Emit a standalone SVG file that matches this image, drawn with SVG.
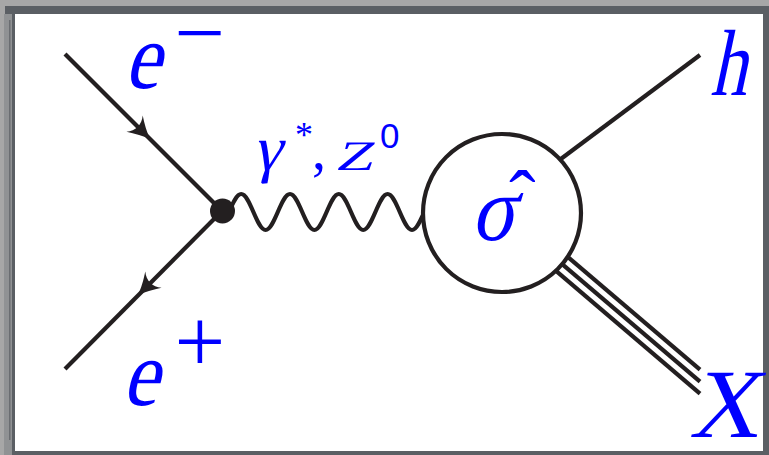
<svg xmlns="http://www.w3.org/2000/svg" width="769" height="455" viewBox="0 0 769 455">
<style>
.ln{stroke:#231f20;stroke-width:4.2;fill:none;stroke-linecap:butt}
.lbl{fill:#0000ff}
.arr{fill:#231f20}
</style>
<defs>
<path id="arrowhead" d="M4,0 C-4,-2 -12,-7 -19,-11.5 C-13,-4.5 -13,4.5 -19,11.5 C-12,7 -4,2 4,0 Z"/>
</defs>
<g id="frame">
<rect x="0" y="0" width="769" height="455" fill="#a7a7a7"/>
<rect x="5" y="6" width="764" height="449" fill="#5b5f64"/>
<rect x="4" y="14" width="8" height="441" fill="#909294"/>
<rect x="9" y="20" width="1.5" height="420" fill="#6a6d71"/>
<rect x="15" y="14" width="748" height="437" fill="#ffffff"/>
</g>
<g id="connectors">
<path id="e-minus-line" class="ln" d="M65,54 L222,211"/>
<path id="e-plus-line" class="ln" d="M222,211 L65,369"/>
<use href="#arrowhead" class="arr" transform="translate(148,137) rotate(45)"/>
<use href="#arrowhead" class="arr" transform="translate(140,293) rotate(135)"/>
<path id="photon" class="ln" d="M229,212 c4.08,-9.45 7.79,-18 12.2,-18 c4.41,0 8.12,8.55 12.2,18 c4.08,9.45 7.79,18 12.2,18 c4.41,0 8.12,-8.55 12.2,-18 c4.08,-9.45 7.79,-18 12.2,-18 c4.41,0 8.12,8.55 12.2,18 c4.08,9.45 7.79,18 12.2,18 c4.41,0 8.12,-8.55 12.2,-18 c4.08,-9.45 7.79,-18 12.2,-18 c4.41,0 8.12,8.55 12.2,18 c4.08,9.45 7.79,18 12.2,18 c4.41,0 8.12,-8.55 12.2,-18 c4.08,-9.45 7.79,-18 12.2,-18 c4.41,0 8.12,8.55 12.2,18 c4.08,9.45 7.79,18 12.2,18 c4.41,0 8.12,-8.55 12.2,-18"/>
<path id="h-line" class="ln" d="M530,182 L700,55"/>
<path id="x-line-1" class="ln" d="M530,224.7 L700,369.7"/>
<path id="x-line-2" class="ln" d="M530,236.7 L700,381.7"/>
<path id="x-line-3" class="ln" d="M530,248.7 L700,393.7"/>
</g>
<g id="vertex">
<circle cx="222.5" cy="211" r="12.5" fill="#231f20"/>
</g>
<g id="blob" font-family="Liberation Serif">
<circle cx="502" cy="213" r="79" fill="#ffffff" stroke="#231f20" stroke-width="4.2"/>
<text class="lbl" font-family="Liberation Serif" font-size="92" transform="translate(471,240) skewX(-12) scale(0.88,1)">σ</text>
<text class="lbl" font-family="Liberation Serif" font-size="80" x="509" y="226">ˆ</text>
</g>
<g id="label-eminus" font-family="Liberation Serif">
<text class="lbl" font-family="Liberation Serif" font-size="94" transform="translate(124,88) skewX(-14) scale(0.86,1)">e</text>
<text class="lbl" font-family="Liberation Serif" font-size="90" x="200" y="63" text-anchor="middle">−</text>
</g>
<g id="label-eplus" font-family="Liberation Serif">
<text class="lbl" font-family="Liberation Serif" font-size="94" transform="translate(122,405) skewX(-14) scale(0.86,1)">e</text>
<text class="lbl" font-family="Liberation Serif" font-size="90" x="200" y="372" text-anchor="middle">+</text>
</g>
<g id="label-h" font-family="Liberation Serif">
<text class="lbl" font-family="Liberation Serif" font-size="94" transform="translate(710,95) skewX(-12) scale(0.78,1)">h</text>
</g>
<g id="label-x" font-family="Liberation Serif">
<text class="lbl" font-family="Liberation Serif" font-size="98" transform="translate(689,437) skewX(-12) scale(0.98,1)">X</text>
</g>
<g id="label-boson" font-family="Liberation Serif">
<text class="lbl" font-family="Liberation Serif" font-size="64" transform="translate(253,170) skewX(-12)">γ</text>
<text class="lbl" font-family="Liberation Serif" font-size="36" x="295" y="147">*</text>
<text class="lbl" font-family="Liberation Serif" font-size="56" x="312" y="169">,</text>
<text class="lbl" font-family="Liberation Serif" font-size="42" transform="translate(335,170) skewX(-14) scale(1.5,1)">Z</text>
<text class="lbl" font-family="Liberation Sans" font-size="35" x="380" y="148">0</text>
</g>
</svg>
